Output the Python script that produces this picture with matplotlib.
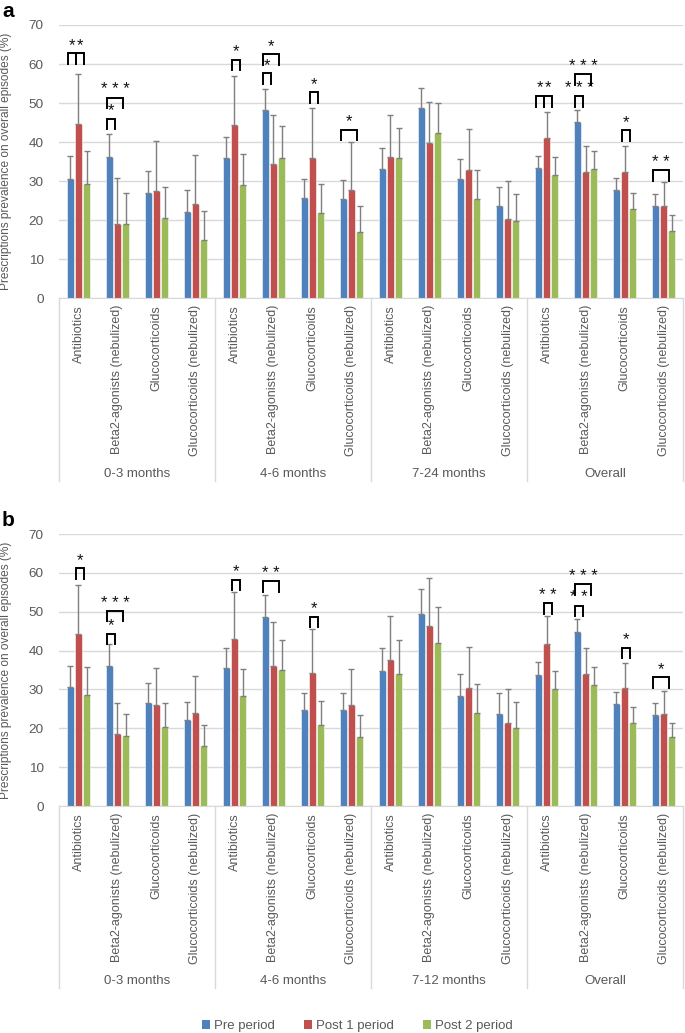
import numpy as np
import matplotlib.pyplot as plt
from matplotlib.patches import Patch

plt.rcParams['font.family'] = ['Liberation Sans', 'DejaVu Sans']

drugs = ['Antibiotics', 'Beta2-agonists (nebulized)', 'Glucocorticoids',
         'Glucocorticoids (nebulized)']
groups_a = ['0-3 months', '4-6 months', '7-24 months', 'Overall']
groups_b = ['0-3 months', '4-6 months', '7-12 months', 'Overall']
series = ['Pre period', 'Post 1 period', 'Post 2 period']
colors = ['#4F81BD', '#C0504D', '#9BBB59']

# panel a - bar heights (%) and top of the error bar
pre_a = [30.6, 36.2, 27.0, 22.1, 35.9, 48.2, 25.7, 25.4,
         33.2, 48.6, 30.6, 23.6, 33.4, 45.1, 27.8, 23.7]
pre_a_hi = [36.5, 42.1, 32.6, 27.6, 41.2, 53.7, 30.6, 30.3,
            38.4, 53.9, 35.6, 28.4, 36.5, 48.2, 30.7, 26.6]
post1_a = [44.7, 18.9, 27.5, 24.0, 44.3, 34.3, 36.0, 27.7,
           36.2, 39.7, 32.9, 20.3, 41.0, 32.4, 32.4, 23.5]
post1_a_hi = [57.5, 30.8, 40.2, 36.6, 56.8, 46.9, 48.7, 40.1,
              46.8, 50.3, 43.3, 29.9, 47.8, 39.1, 39.1, 29.8]
post2_a = [29.3, 18.9, 20.5, 15.0, 28.9, 35.9, 21.7, 16.8,
           35.8, 42.2, 25.4, 19.8, 31.5, 33.2, 22.7, 17.3]
post2_a_hi = [37.8, 26.8, 28.5, 22.3, 36.8, 44.1, 29.3, 23.7,
              43.7, 50.1, 32.9, 26.6, 36.2, 37.8, 27.0, 21.3]

# panel b
pre_b = [30.7, 36.0, 26.6, 22.2, 35.6, 48.6, 24.6, 24.6,
         34.7, 49.4, 28.2, 23.8, 33.7, 44.7, 26.3, 23.5]
pre_b_hi = [36.0, 41.6, 31.7, 26.8, 40.8, 54.4, 29.1, 29.1,
            40.7, 55.8, 34.0, 29.1, 37.1, 48.1, 29.3, 26.5]
post1_b = [44.2, 18.5, 25.9, 24.0, 43.1, 36.0, 34.3, 25.9,
           37.6, 46.4, 30.3, 21.4, 41.7, 33.9, 30.3, 23.8]
post1_b_hi = [57.0, 26.5, 35.6, 33.4, 55.2, 47.4, 45.5, 35.4,
              48.9, 58.8, 40.9, 30.1, 49.0, 40.6, 36.9, 29.5]
post2_b = [28.6, 17.9, 20.3, 15.4, 28.4, 35.1, 20.8, 17.8,
           34.0, 42.0, 24.0, 20.0, 30.0, 31.1, 21.5, 17.7]
post2_b_hi = [35.9, 23.6, 26.5, 20.9, 35.4, 42.8, 27.0, 23.4,
              42.7, 51.2, 31.3, 26.7, 34.7, 35.8, 25.5, 21.3]

# significance brackets: (category, from bar, to bar, bracket top, stars)
sig_a = [(0, 0, 1, 62.7, '*'), (0, 1, 2, 62.7, '*'),
         (1, 0, 1, 46.0, '*'), (1, 0, 2, 51.4, '***'),
         (4, 1, 2, 61.1, '*'),
         (5, 0, 1, 57.6, '*'), (5, 0, 2, 62.5, '*'),
         (6, 1, 2, 52.8, '*'),
         (7, 0, 2, 43.1, '*'),
         (12, 0, 1, 51.8, '*'), (12, 1, 2, 51.8, '*'),
         (13, 0, 1, 51.8, '***'), (13, 0, 2, 57.4, '***'),
         (14, 1, 2, 43.0, '*'),
         (15, 0, 2, 32.8, '**')]
sig_b = [(0, 1, 2, 61.2, '*'),
         (1, 0, 1, 44.3, '*'), (1, 0, 2, 50.2, '***'),
         (4, 1, 2, 58.2, '*'),
         (5, 0, 2, 57.8, '**'),
         (6, 1, 2, 48.7, '*'),
         (12, 1, 2, 52.2, '**'),
         (13, 0, 1, 51.6, '**'), (13, 0, 2, 57.1, '***'),
         (14, 1, 2, 40.7, '*'),
         (15, 0, 2, 33.2, '*')]

txt = '#595959'
grid = '#D9D9D9'
pitch = 0.21
barw = 0.175


def draw_panel(ax, vals, his, groups, sig, letter):
    x = np.arange(len(pre_a))
    for k, (v, h) in enumerate(zip(vals, his)):
        v = np.array(v)
        h = np.array(h)
        pos = x + (k - 1) * pitch
        ax.bar(pos, v, barw, color=colors[k], edgecolor='white', linewidth=0.4, zorder=2)
        ax.errorbar(pos, v, yerr=[np.zeros_like(v), h - v], fmt='none', ecolor='#7F7F7F',
                    elinewidth=1.0, capsize=2.3, capthick=1.0, zorder=3)
    for c, i, j, top, lab in sig:
        x0 = c + (i - 1) * pitch - 0.06
        x1 = c + (j - 1) * pitch - 0.06
        ax.plot([x0, x0, x1, x1], [top - 2.7, top, top, top - 2.7], color='black',
                lw=1.4, solid_joinstyle='miter', zorder=4)
        ax.text((x0 + x1) / 2, top + 0.1, ' '.join(lab), ha='center', va='bottom',
                fontsize=12, color='#111111')

    ax.set_xlim(-0.5, 15.5)
    ax.set_ylim(0, 70)
    ax.set_yticks(range(0, 71, 10))
    ax.yaxis.grid(True, color=grid, lw=1.0)
    ax.set_axisbelow(True)
    for s in ['left', 'right', 'top']:
        ax.spines[s].set_visible(False)
    ax.spines['bottom'].set_color(grid)
    ax.tick_params(axis='y', length=0, labelsize=9.7, labelcolor=txt, pad=11)
    ax.tick_params(axis='x', length=0, labelsize=9, labelcolor=txt, pad=5)
    ax.set_xticks(x)
    ax.set_xticklabels(drugs * 4, rotation=90, va='top', ha='center')
    ax.set_ylabel('Prescriptions prevalence on overall episodes (%)', fontsize=8.6,
                  color=txt)
    ax.yaxis.set_label_coords(-0.076, 0.5)

    tr = ax.get_xaxis_transform()
    for b in [-0.5, 3.5, 7.5, 11.5, 15.5]:
        ax.plot([b, b], [0, -0.67], transform=tr, color=grid, lw=1.0, clip_on=False)
    for g, name in enumerate(groups):
        ax.text(g * 4 + 1.5, -0.645, name, transform=tr, ha='center', va='center',
                fontsize=9.5, color=txt)
    ax.text(-0.082, 1.05, letter, transform=ax.transAxes, fontsize=15,
            fontweight='bold', ha='center', va='center')


fig = plt.figure(figsize=(6.85, 10.33), dpi=100)
ax_a = fig.add_axes([0.0861, 0.7115, 0.911, 0.2643])
ax_b = fig.add_axes([0.0861, 0.2197, 0.911, 0.2633])

draw_panel(ax_a, [pre_a, post1_a, post2_a], [pre_a_hi, post1_a_hi, post2_a_hi],
           groups_a, sig_a, 'a')
draw_panel(ax_b, [pre_b, post1_b, post2_b], [pre_b_hi, post1_b_hi, post2_b_hi],
           groups_b, sig_b, 'b')

handles = [Patch(facecolor=c, edgecolor='none') for c in colors]
fig.legend(handles, series, loc='center', bbox_to_anchor=(0.522, 0.0065), ncol=3,
           frameon=False, fontsize=9.5, handlelength=0.6, handleheight=0.6,
           handletextpad=0.3, columnspacing=2.2, labelcolor=txt)

fig.savefig('out.png', dpi=100)
